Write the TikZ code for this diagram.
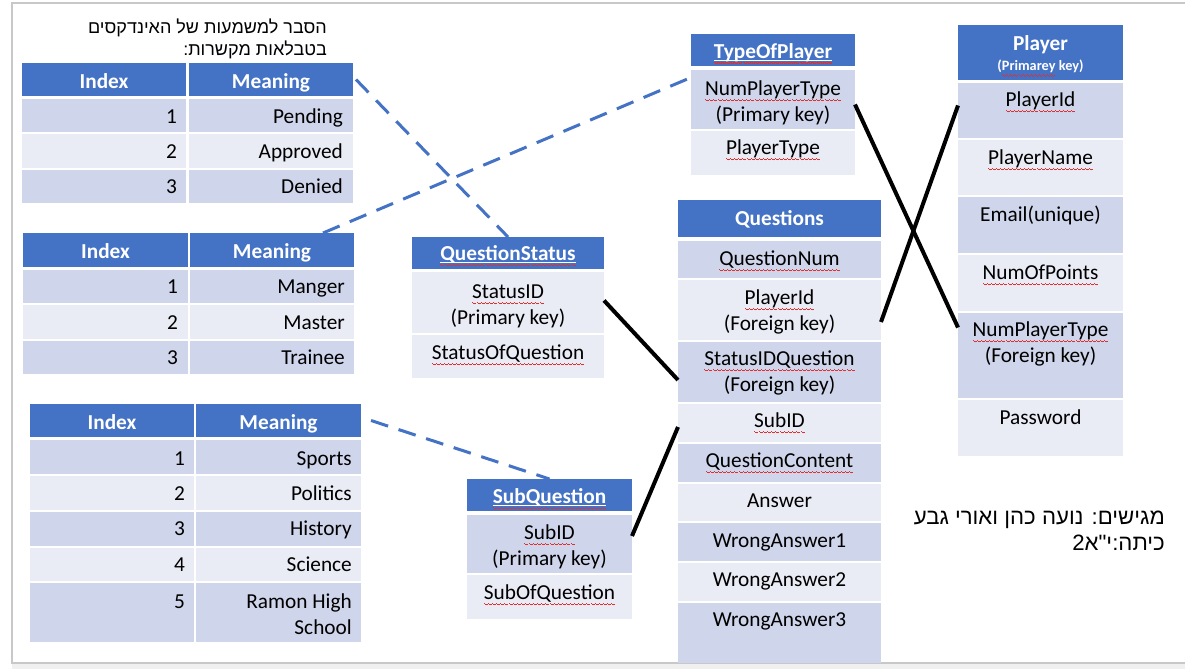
\documentclass[tikz,border=0pt]{standalone}
\usepackage{fontspec}
\setmainfont{Carlito}
\newfontfamily\hebfont[Script=Hebrew]{Liberation Sans}
\TeXXeTstate=1
\definecolor{hblue}{HTML}{4472C4}
\definecolor{rdark}{HTML}{CFD5EA}
\definecolor{rlight}{HTML}{E9EBF5}
\definecolor{framec}{HTML}{C8C8C8}
\definecolor{stripc}{HTML}{F0F0F0}
\definecolor{dashc}{HTML}{4472C4}
\definecolor{squig}{HTML}{E03030}
\newcommand\wvunit{\hbox{\vrule height -3.4pt depth 4.6pt width 1pt\vrule height -4.1pt depth 5.3pt width 1pt\vrule height -4.8pt depth 6.0pt width 1pt\vrule height -4.1pt depth 5.3pt width 1pt}}
\newcommand\wvline{\rlap{\hbox to\wd0{\color{squig}\xleaders\wvunit\hfil}}}
\newcommand\sq[1]{\setbox0\hbox{#1}\wvline\box0\relax}
\newcommand\sqw[1]{\setbox0\hbox{#1}\rlap{\color{white}\vrule height -1.2pt depth 2.6pt width\wd0}\wvline\box0\relax}
\newcommand\mkcell[6]{\node[cellb, fill=#6, minimum width={#4-#2}, minimum height={#5-#3}] (#1) at (#2,#3) {};}
\tikzset{
 cellb/.style={inner sep=0pt, outer sep=0pt, anchor=north west, draw=none},
 bt/.style={font=\fontsize{21.3}{26}\selectfont, text=black, inner sep=0pt, align=center},
 brt/.style={bt, align=right, anchor=north east},
 ht/.style={font=\bfseries\fontsize{21.3}{26}\selectfont, text=white, inner sep=0pt, align=center, anchor=north},
 ct/.style={bt, anchor=north},
 dline/.style={draw=dashc, line width=3pt, dash pattern=on 18pt off 11pt},
 sline/.style={draw=black, line width=4pt},
 hebt/.style={inner sep=0pt, align=right, anchor=north east, text=black},
}
\begin{document}
\begin{tikzpicture}[x=1pt,y=-1pt]
\useasboundingbox (0,0) rectangle (1185,669);
\fill[white] (0,0) rectangle (1185,669);
% frame
\fill[stripc] (12,663) rectangle (1185,669);
\draw[framec, line width=1.2pt] (1185,3) -- (12,3) -- (12,663) -- (1185,663);

% Hebrew notes
\node[hebt, font=\hebfont\fontsize{18}{22}\selectfont] (note1) at (327,18)
  {\strut\beginR הסבר למשמעות של האינדקסים\endR\\\beginR בטבלאות מקשרות:\endR};
\node[hebt, font=\hebfont\fontsize{22.2}{26}\selectfont] (note2) at (1165,506.5)
  {\strut\beginR מגישים: נועה כהן ואורי גבע\endR\\\beginR כיתה:י"א2\endR};

% ---------- Table 1 ----------
\mkcell{t1hi}{22}{63}{186}{96}{hblue}
\mkcell{t1hm}{189}{63}{353}{96}{hblue}
\mkcell{t1ai}{22}{99}{186}{132}{rdark}
\mkcell{t1am}{189}{99}{353}{132}{rdark}
\mkcell{t1bi}{22}{134}{186}{168}{rlight}
\mkcell{t1bm}{189}{134}{353}{168}{rlight}
\mkcell{t1ci}{22}{170}{186}{203}{rdark}
\mkcell{t1cm}{189}{170}{353}{203}{rdark}
\node[ht] (t1hit) at (104,70) {\strut Index};
\node[ht] (t1hmt) at (271,70) {\strut Meaning};
\node[brt] (t1a1) at (177,105) {\strut 1};
\node[brt] (t1a2) at (343,105) {\strut Pending};
\node[brt] (t1b1) at (177,140) {\strut 2};
\node[brt] (t1b2) at (343,140) {\strut Approved};
\node[brt] (t1c1) at (177,175) {\strut 3};
\node[brt] (t1c2) at (343,175) {\strut Denied};

% ---------- Table 2 ----------
\mkcell{t2hi}{23}{233}{188}{267}{hblue}
\mkcell{t2hm}{190}{233}{354}{267}{hblue}
\mkcell{t2ai}{23}{270}{188}{303}{rdark}
\mkcell{t2am}{190}{270}{354}{303}{rdark}
\mkcell{t2bi}{23}{305}{188}{339}{rlight}
\mkcell{t2bm}{190}{305}{354}{339}{rlight}
\mkcell{t2ci}{23}{341}{188}{374}{rdark}
\mkcell{t2cm}{190}{341}{354}{374}{rdark}
\node[ht] (t2hit) at (105.5,240) {\strut Index};
\node[ht] (t2hmt) at (272,240) {\strut Meaning};
\node[brt] (t2a1) at (178,275) {\strut 1};
\node[brt] (t2a2) at (345,275) {\strut Manger};
\node[brt] (t2b1) at (178,311) {\strut 2};
\node[brt] (t2b2) at (345,311) {\strut Master};
\node[brt] (t2c1) at (178,346) {\strut 3};
\node[brt] (t2c2) at (345,346) {\strut Trainee};

% ---------- Table 3 ----------
\mkcell{t3hi}{30}{404}{194}{437}{hblue}
\mkcell{t3hm}{196}{404}{361}{437}{hblue}
\mkcell{t3ai}{30}{440}{194}{474}{rdark}
\mkcell{t3am}{196}{440}{361}{474}{rdark}
\mkcell{t3bi}{30}{476}{194}{510}{rlight}
\mkcell{t3bm}{196}{476}{361}{510}{rlight}
\mkcell{t3ci}{30}{512}{194}{546}{rdark}
\mkcell{t3cm}{196}{512}{361}{546}{rdark}
\mkcell{t3di}{30}{548}{194}{581}{rlight}
\mkcell{t3dm}{196}{548}{361}{581}{rlight}
\mkcell{t3ei}{30}{583}{194}{642}{rdark}
\mkcell{t3em}{196}{583}{361}{642}{rdark}
\node[ht] (t3hit) at (112,411) {\strut Index};
\node[ht] (t3hmt) at (278.5,411) {\strut Meaning};
\node[brt] (t3a1) at (185,447) {\strut 1};
\node[brt] (t3a2) at (352,447) {\strut Sports};
\node[brt] (t3b1) at (185,482) {\strut 2};
\node[brt] (t3b2) at (352,482) {\strut Politics};
\node[brt] (t3c1) at (185,517) {\strut 3};
\node[brt] (t3c2) at (352,517) {\strut History};
\node[brt] (t3d1) at (185,553) {\strut 4};
\node[brt] (t3d2) at (352,553) {\strut Science};
\node[brt] (t3e1) at (185,590) {\strut 5};
\node[brt] (t3e2) at (352,590) {\strut Ramon High\\School};

% ---------- QuestionStatus ----------
\mkcell{qsh}{412}{237}{604}{269}{hblue}
\mkcell{qs1}{412}{272}{604}{333}{rlight}
\mkcell{qs2}{412}{335}{604}{378}{rlight}
\node[ht] (qsht) at (508,242) {\strut\sqw{QuestionStatus}};
\node[ct] (qs1t) at (508,280) {\strut\sq{StatusID}\\(Primary key)};
\node[ct] (qs2t) at (508,341) {\strut\sq{StatusOfQuestion}};

% ---------- SubQuestion ----------
\mkcell{sqh}{467}{479}{632}{511}{hblue}
\mkcell{sq1}{467}{515}{632}{573}{rdark}
\mkcell{sq2}{467}{575}{632}{619}{rlight}
\node[ht] (sqht) at (549.5,485) {\strut\sqw{SubQuestion}};
\node[ct] (sq1t) at (549.5,521) {\strut\sq{SubID}\\(Primary key)};
\node[ct] (sq2t) at (549.5,581) {\strut\sq{SubOfQuestion}};

% ---------- TypeOfPlayer ----------
\mkcell{tph}{691}{34}{855}{66}{hblue}
\mkcell{tp1}{691}{70}{855}{129}{rdark}
\mkcell{tp2}{691}{131}{855}{175}{rlight}
\node[ht] (tpht) at (773,40) {\strut\sqw{TypeOfPlayer}};
\node[ct] (tp1t) at (773,77) {\strut\sq{NumPlayerType}\\(Primary key)};
\node[ct] (tp2t) at (773,136) {\strut\sq{PlayerType}};

% ---------- Player ----------
\mkcell{ph}{958}{25}{1123}{80}{hblue}
\mkcell{p1}{958}{83}{1123}{138}{rdark}
\mkcell{p2}{958}{140}{1123}{195}{rlight}
\mkcell{p3}{958}{197}{1123}{253}{rdark}
\mkcell{p4}{958}{255}{1123}{311}{rlight}
\mkcell{p5}{958}{313}{1123}{398}{rdark}
\mkcell{p6}{958}{400}{1123}{456}{rlight}
\node[ht] (pht) at (1040.5,32) {\strut Player};
\node[ht, font=\bfseries\fontsize{14.3}{17}\selectfont] (phs) at (1040.5,58.6) {\strut(\sq{Primarey} key)};
\node[ct] (p1t) at (1040.5,88) {\strut\sq{PlayerId}};
\node[ct] (p2t) at (1040.5,146) {\strut\sq{PlayerName}};
\node[ct] (p3t) at (1040.5,203) {\strut Email(unique)};
\node[ct] (p4t) at (1040.5,261) {\strut\sq{NumOfPoints}};
\node[ct] (p5t) at (1040.5,318) {\strut\sq{NumPlayerType}\\(Foreign key)};
\node[ct] (p6t) at (1040.5,406) {\strut Password};

% ---------- Questions ----------
\mkcell{qh}{678}{200}{881}{237}{hblue}
\mkcell{q1}{678}{241}{881}{278}{rdark}
\mkcell{q2}{678}{280}{881}{340}{rlight}
\mkcell{q3}{678}{342}{881}{402}{rdark}
\mkcell{q4}{678}{404}{881}{442}{rlight}
\mkcell{q5}{678}{444}{881}{482}{rdark}
\mkcell{q6}{678}{484}{881}{521}{rlight}
\mkcell{q7}{678}{523}{881}{561}{rdark}
\mkcell{q8}{678}{563}{881}{601}{rlight}
\mkcell{q9}{678}{603}{881}{663}{rdark}
\node[ht] (qht) at (779.5,207) {\strut Questions};
\node[ct] (q1t) at (779.5,247) {\strut\sq{QuestionNum}};
\node[ct] (q2t) at (779.5,286) {\strut\sq{PlayerId}\\(Foreign key)};
\node[ct] (q3t) at (779.5,347) {\strut\sq{StatusIDQuestion}\\(Foreign key)};
\node[ct] (q4t) at (779.5,409) {\strut\sq{SubID}};
\node[ct] (q5t) at (779.5,449) {\strut\sq{QuestionContent}};
\node[ct] (q6t) at (779.5,489) {\strut Answer};
\node[ct] (q7t) at (779.5,529) {\strut WrongAnswer1};
\node[ct] (q8t) at (779.5,568) {\strut WrongAnswer2};
\node[ct] (q9t) at (779.5,608) {\strut WrongAnswer3};

% ---------- connectors ----------
\draw[dline] ([xshift=3pt]t1hm.east) -- (qsh.north);
\draw[dline] ([xshift=-31pt]t2hm.north east) -- ([yshift=22pt]tp1.west);
\draw[dline] ([xshift=10pt]t3hm.east) -- (sqh.north);
\draw[sline] ([yshift=2pt]qs1.east) -- ([yshift=-8pt]q3.west);
\draw[sline] ([yshift=8pt]sq1.east) -- ([yshift=-4pt]q4.west);
\draw[sline] ([yshift=-5pt]tp1.east) -- ([yshift=28pt]p5.west);
\draw[sline] ([yshift=-12pt]q2.east) -- ([yshift=5pt]p1.west);
\end{tikzpicture}
\end{document}
